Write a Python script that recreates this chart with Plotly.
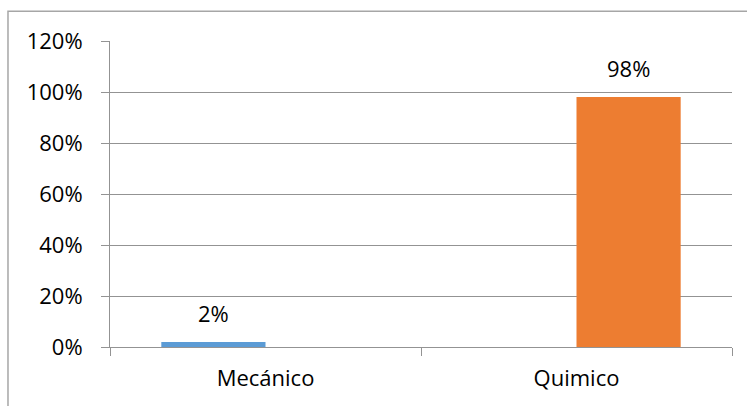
import plotly.graph_objects as go

categories = ["Mecánico", "Quimico"]
series_names = ["Mecánico", "Quimico"]
series_values = [[0.02, None], [None, 0.98]]
series_colors = ["#5B9BD5", "#ED7D31"]
y_tickvals = [0, 0.2, 0.4, 0.6, 0.8, 1.0, 1.2]
y_ticktext = ["0%", "20%", "40%", "60%", "80%", "100%", "120%"]

FONT = "Open Sans, Lato, sans-serif"
FSIZE = 22
GRID = "#939393"
BARGAP = 0.33

fig = go.Figure()
for name, vals, color in zip(series_names, series_values, series_colors):
    fig.add_trace(go.Bar(x=categories, y=vals, name=name, marker_color=color,
                         marker_line_width=0))

# value labels above each bar, positioned in the grouped slot of its series
n_series = len(series_names)
bar_w = (1 - BARGAP) / n_series
for si, vals in enumerate(series_values):
    offset = -(1 - BARGAP) / 2 + bar_w * (si + 0.5)
    for ci, v in enumerate(vals):
        if v is None:
            continue
        fig.add_annotation(x=ci + offset, y=v, xref="x", yref="y",
                           text=f"{round(v * 100)}%", showarrow=False,
                           yanchor="bottom", yshift=12,
                           font=dict(family=FONT, size=FSIZE, color="#000000"))

# outer chart frame
fig.add_shape(type="rect", xref="paper", yref="paper",
              x0=-0.164, x1=2, y0=-1, y1=1.097,
              line=dict(color="#A6A6A6", width=1.5), layer="below")

fig.update_layout(
    width=747, height=406,
    margin=dict(l=110, r=15, t=41, b=59, pad=0),
    paper_bgcolor="white", plot_bgcolor="white",
    barmode="group", bargap=BARGAP, bargroupgap=0,
    showlegend=False,
    font=dict(family=FONT, size=FSIZE, color="#000000"),
)
fig.update_yaxes(range=[0, 1.2], tickvals=y_tickvals, ticktext=y_ticktext,
                 showgrid=True, gridcolor=GRID, gridwidth=1,
                 showline=True, linecolor=GRID, linewidth=1,
                 ticks="outside", ticklen=8, tickcolor=GRID,
                 ticklabelstandoff=14, zeroline=False,
                 tickfont=dict(family=FONT, size=FSIZE, color="#000000"))
fig.update_xaxes(showline=True, linecolor=GRID, linewidth=1,
                 ticks="outside", ticklen=8, tickcolor=GRID,
                 tickson="boundaries", showgrid=False,
                 ticklabelstandoff=12,
                 tickfont=dict(family=FONT, size=FSIZE, color="#000000"))

fig.write_html("out.html")
